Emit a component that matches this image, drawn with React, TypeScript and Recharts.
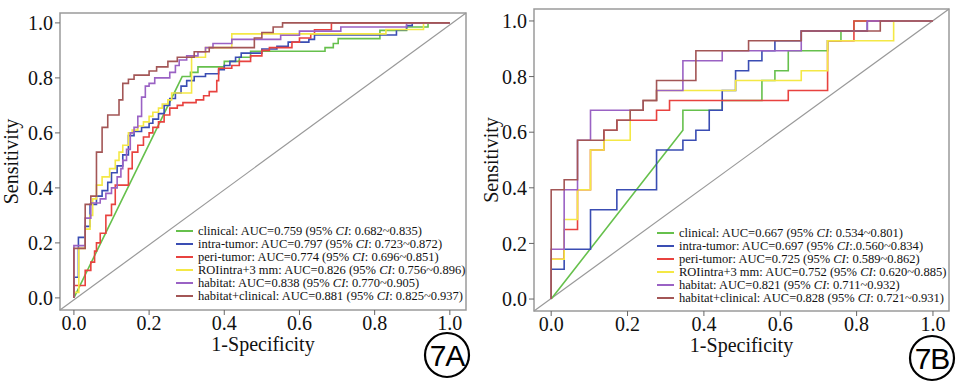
import React from 'react';
import { LineChart, Line, XAxis, YAxis, ReferenceLine, ReferenceArea, Label } from 'recharts';

type Pt = [number, number];

const seriesNames = ['clinical', 'intra-tumor', 'peri-tumor', 'ROIintra+3 mm', 'habitat', 'habitat+clinical'];
const seriesColors = ['#66c04c', '#3a4db3', '#e8423f', '#f4e845', '#9a62c4', '#a35656'];
const axisTicks = [0, 0.2, 0.4, 0.6, 0.8, 1.0];

// 7A: training cohort curves (1-specificity, sensitivity)
const clinicalA: Pt[] = [
  [0, 0], [0.288, 0.805], [0.31, 0.805], [0.31, 0.82], [0.33, 0.82], [0.33, 0.84], [0.4, 0.84],
  [0.4, 0.86], [0.44, 0.86], [0.44, 0.875], [0.47, 0.875], [0.47, 0.897], [0.668, 0.897],
  [0.668, 0.91], [0.69, 0.91], [0.69, 0.925], [0.703, 0.925], [0.703, 0.943], [0.814, 0.943],
  [0.814, 0.973], [0.885, 0.973], [0.885, 0.985], [0.942, 0.985], [0.942, 1], [1, 1],
];
const intraA: Pt[] = [
  [0, 0], [0, 0.075], [0.012, 0.075], [0.012, 0.22], [0.03, 0.22], [0.03, 0.26], [0.043, 0.26],
  [0.043, 0.34], [0.06, 0.34], [0.06, 0.37], [0.075, 0.37], [0.075, 0.39], [0.09, 0.39],
  [0.09, 0.42], [0.1, 0.42], [0.1, 0.455], [0.115, 0.455], [0.115, 0.48], [0.13, 0.48],
  [0.13, 0.52], [0.145, 0.52], [0.145, 0.59], [0.16, 0.59], [0.16, 0.605], [0.18, 0.605],
  [0.18, 0.62], [0.2, 0.62], [0.2, 0.635], [0.21, 0.635], [0.21, 0.65], [0.225, 0.65],
  [0.225, 0.67], [0.24, 0.67], [0.24, 0.7], [0.255, 0.7], [0.255, 0.725], [0.27, 0.725],
  [0.27, 0.745], [0.285, 0.745], [0.285, 0.77], [0.3, 0.77], [0.3, 0.79], [0.32, 0.79],
  [0.32, 0.805], [0.35, 0.805], [0.35, 0.815], [0.385, 0.815], [0.385, 0.83], [0.4, 0.83],
  [0.4, 0.845], [0.415, 0.845], [0.415, 0.86], [0.43, 0.86], [0.43, 0.875], [0.445, 0.875],
  [0.445, 0.89], [0.5, 0.89], [0.5, 0.905], [0.54, 0.905], [0.54, 0.915], [0.57, 0.915],
  [0.57, 0.93], [0.625, 0.93], [0.625, 0.94], [0.64, 0.94], [0.64, 0.956], [0.858, 0.956],
  [0.858, 0.975], [0.885, 0.975], [0.885, 0.99], [0.9, 0.99], [0.9, 1], [1, 1],
];
const periA: Pt[] = [
  [0, 0], [0, 0.045], [0.03, 0.045], [0.03, 0.1], [0.045, 0.1], [0.045, 0.13], [0.055, 0.13],
  [0.055, 0.17], [0.06, 0.17], [0.06, 0.2], [0.07, 0.2], [0.07, 0.235], [0.085, 0.235],
  [0.085, 0.3], [0.1, 0.3], [0.1, 0.34], [0.11, 0.34], [0.11, 0.41], [0.145, 0.41],
  [0.145, 0.47], [0.155, 0.47], [0.155, 0.53], [0.17, 0.53], [0.17, 0.555], [0.185, 0.555],
  [0.185, 0.585], [0.2, 0.585], [0.2, 0.6], [0.21, 0.6], [0.21, 0.62], [0.225, 0.62],
  [0.225, 0.64], [0.24, 0.64], [0.24, 0.665], [0.255, 0.665], [0.255, 0.69], [0.275, 0.69],
  [0.275, 0.7], [0.29, 0.7], [0.29, 0.71], [0.325, 0.71], [0.325, 0.72], [0.345, 0.72],
  [0.345, 0.735], [0.36, 0.735], [0.36, 0.75], [0.38, 0.75], [0.38, 0.79], [0.385, 0.79],
  [0.385, 0.835], [0.42, 0.835], [0.42, 0.845], [0.44, 0.845], [0.44, 0.86], [0.47, 0.86],
  [0.47, 0.88], [0.5, 0.88], [0.5, 0.9], [0.52, 0.9], [0.52, 0.91], [0.58, 0.91], [0.58, 0.93],
  [0.6, 0.93], [0.6, 0.945], [0.63, 0.945], [0.63, 0.96], [0.64, 0.96], [0.64, 0.975],
  [0.685, 0.975], [0.685, 1], [1, 1],
];
const roiA: Pt[] = [
  [0, 0], [0, 0.02], [0.013, 0.02], [0.013, 0.18], [0.03, 0.18], [0.03, 0.25], [0.043, 0.25],
  [0.043, 0.3], [0.05, 0.3], [0.05, 0.36], [0.06, 0.36], [0.06, 0.41], [0.075, 0.41],
  [0.075, 0.44], [0.095, 0.44], [0.095, 0.47], [0.11, 0.47], [0.11, 0.5], [0.12, 0.5],
  [0.12, 0.53], [0.13, 0.53], [0.13, 0.555], [0.145, 0.555], [0.145, 0.6], [0.155, 0.6],
  [0.155, 0.61], [0.17, 0.61], [0.17, 0.625], [0.185, 0.625], [0.185, 0.64], [0.2, 0.64],
  [0.2, 0.66], [0.21, 0.66], [0.21, 0.675], [0.225, 0.675], [0.225, 0.69], [0.235, 0.69],
  [0.235, 0.705], [0.25, 0.705], [0.25, 0.72], [0.26, 0.72], [0.26, 0.745], [0.313, 0.745],
  [0.313, 0.875], [0.35, 0.875], [0.35, 0.91], [0.42, 0.91], [0.42, 0.96], [0.83, 0.96],
  [0.83, 0.976], [0.93, 0.976], [0.93, 1], [1, 1],
];
const habitatA: Pt[] = [
  [0, 0], [0, 0.19], [0.03, 0.19], [0.03, 0.29], [0.045, 0.29], [0.045, 0.345], [0.07, 0.345],
  [0.07, 0.36], [0.085, 0.36], [0.085, 0.38], [0.1, 0.38], [0.1, 0.4], [0.115, 0.4],
  [0.115, 0.44], [0.125, 0.44], [0.125, 0.47], [0.13, 0.47], [0.13, 0.5], [0.14, 0.5],
  [0.14, 0.54], [0.15, 0.54], [0.15, 0.6], [0.16, 0.6], [0.16, 0.62], [0.17, 0.62],
  [0.17, 0.66], [0.18, 0.66], [0.18, 0.73], [0.19, 0.73], [0.19, 0.77], [0.2, 0.77],
  [0.2, 0.78], [0.215, 0.78], [0.215, 0.8], [0.255, 0.8], [0.255, 0.82], [0.27, 0.82],
  [0.27, 0.845], [0.28, 0.845], [0.28, 0.865], [0.3, 0.865], [0.3, 0.88], [0.33, 0.88],
  [0.33, 0.895], [0.35, 0.895], [0.35, 0.91], [0.37, 0.91], [0.37, 0.925], [0.42, 0.925],
  [0.42, 0.94], [0.55, 0.94], [0.55, 0.955], [0.6, 0.955], [0.6, 0.97], [0.71, 0.97],
  [0.71, 0.985], [0.885, 0.985], [0.885, 1], [1, 1],
];
const comboA: Pt[] = [
  [0, 0], [0, 0.18], [0.03, 0.18], [0.03, 0.34], [0.045, 0.34], [0.045, 0.37], [0.06, 0.37],
  [0.06, 0.53], [0.075, 0.53], [0.075, 0.62], [0.09, 0.62], [0.09, 0.665], [0.12, 0.665],
  [0.12, 0.72], [0.13, 0.72], [0.13, 0.78], [0.145, 0.78], [0.145, 0.795], [0.16, 0.795],
  [0.16, 0.81], [0.2, 0.81], [0.2, 0.825], [0.22, 0.825], [0.22, 0.84], [0.25, 0.84],
  [0.25, 0.86], [0.275, 0.86], [0.275, 0.875], [0.32, 0.875], [0.32, 0.895], [0.36, 0.895],
  [0.36, 0.91], [0.48, 0.91], [0.48, 0.945], [0.5, 0.945], [0.5, 0.965], [0.53, 0.965],
  [0.53, 0.985], [0.555, 0.985], [0.555, 1], [1, 1],
];
const aucA = ['0.759', '0.797', '0.774', '0.826', '0.838', '0.881'];
const ciA = [': 0.682~0.835', ': 0.723~0.872', ': 0.696~0.851', ': 0.756~0.896', ': 0.770~0.905', ': 0.825~0.937'];

// 7B: validation cohort curves
const clinicalB: Pt[] = [
  [0, 0], [0.345, 0.607], [0.345, 0.679], [0.448, 0.679], [0.448, 0.714], [0.552, 0.714],
  [0.552, 0.786], [0.586, 0.786], [0.586, 0.821], [0.621, 0.821], [0.621, 0.893], [0.724, 0.893],
  [0.724, 0.929], [0.759, 0.929], [0.759, 0.964], [0.793, 0.964], [0.793, 1], [1, 1],
];
const intraB: Pt[] = [
  [0, 0], [0, 0.107], [0.034, 0.107], [0.034, 0.179], [0.103, 0.179], [0.103, 0.321],
  [0.172, 0.321], [0.172, 0.393], [0.276, 0.393], [0.276, 0.536], [0.345, 0.536], [0.345, 0.571],
  [0.379, 0.571], [0.379, 0.607], [0.414, 0.607], [0.414, 0.679], [0.448, 0.679], [0.448, 0.75],
  [0.483, 0.75], [0.483, 0.821], [0.517, 0.821], [0.517, 0.857], [0.552, 0.857], [0.552, 0.893],
  [0.586, 0.893], [0.586, 0.929], [0.655, 0.929], [0.655, 0.964], [0.828, 0.964], [0.828, 1], [1, 1],
];
const periB: Pt[] = [
  [0, 0], [0, 0.143], [0.034, 0.143], [0.034, 0.25], [0.069, 0.25], [0.069, 0.393], [0.103, 0.393],
  [0.103, 0.536], [0.138, 0.536], [0.138, 0.607], [0.172, 0.607], [0.172, 0.643], [0.276, 0.643],
  [0.276, 0.679], [0.31, 0.679], [0.31, 0.714], [0.621, 0.714], [0.621, 0.75], [0.724, 0.75],
  [0.724, 0.929], [0.793, 0.929], [0.793, 1], [1, 1],
];
const roiB: Pt[] = [
  [0, 0], [0, 0.143], [0.034, 0.143], [0.034, 0.286], [0.069, 0.286], [0.069, 0.393], [0.103, 0.393],
  [0.103, 0.536], [0.138, 0.536], [0.138, 0.571], [0.207, 0.571], [0.207, 0.679], [0.241, 0.679],
  [0.241, 0.714], [0.276, 0.714], [0.276, 0.75], [0.483, 0.75], [0.483, 0.786], [0.655, 0.786],
  [0.655, 0.821], [0.724, 0.821], [0.724, 0.929], [0.897, 0.929], [0.897, 1], [1, 1],
];
const habitatB: Pt[] = [
  [0, 0], [0, 0.179], [0.034, 0.179], [0.034, 0.393], [0.069, 0.393], [0.069, 0.571], [0.103, 0.571],
  [0.103, 0.679], [0.241, 0.679], [0.241, 0.714], [0.276, 0.714], [0.276, 0.75], [0.345, 0.75],
  [0.345, 0.857], [0.448, 0.857], [0.448, 0.893], [0.655, 0.893], [0.655, 0.964], [0.828, 0.964],
  [0.828, 1], [1, 1],
];
const comboB: Pt[] = [
  [0, 0], [0, 0.393], [0.034, 0.393], [0.034, 0.429], [0.069, 0.429], [0.069, 0.571], [0.138, 0.571],
  [0.138, 0.607], [0.172, 0.607], [0.172, 0.643], [0.207, 0.643], [0.207, 0.679], [0.241, 0.679],
  [0.241, 0.714], [0.276, 0.714], [0.276, 0.786], [0.379, 0.786], [0.379, 0.893], [0.517, 0.893],
  [0.517, 0.929], [0.655, 0.929], [0.655, 0.964], [0.862, 0.964], [0.862, 1], [1, 1],
];
const aucB = ['0.667', '0.697', '0.725', '0.752', '0.821', '0.828'];
const ciB = [': 0.534~0.801', ':.0.560~0.834', ': 0.589~0.862', ': 0.620~0.885', ': 0.711~0.932', ': 0.721~0.931'];

const serif = 'Liberation Serif, Times New Roman, serif';
const boxGray = '#9a9a9a';

const toData = (pts: Pt[]) => pts.map(([x, y]) => ({ x, y }));

interface PanelProps {
  left: number;
  width: number;
  margin: { top: number; right: number; bottom: number; left: number };
  yAxisWidth: number;
  xAxisHeight: number;
  xDomain: [number, number];
  yDomain: [number, number];
  yLabelX: number;
  curves: Pt[][];
  auc: string[];
  ci: string[];
  legendPos: { left: number; top: number };
  badge: { cx: number; cy: number; text: string };
}

const Panel = ({ left, width, margin, yAxisWidth, xAxisHeight, xDomain, yDomain, yLabelX, curves, auc, ci, legendPos, badge }: PanelProps) => (
  <div style={{ position: 'absolute', left, top: 0, width, height: 382 }}>
    <LineChart width={width} height={382} margin={margin} style={{ overflow: 'visible' }}>
      <XAxis
        type="number"
        dataKey="x"
        domain={xDomain}
        ticks={axisTicks}
        allowDataOverflow
        tickFormatter={(v: number) => v.toFixed(1)}
        height={xAxisHeight}
        axisLine={false}
        tickLine={{ stroke: '#666' }}
        tickSize={5}
        tickMargin={1}
        tick={{ fill: '#111', fontSize: 20, fontFamily: serif }}
      >
        <Label
          content={(p: any) => (
            <text x={p.viewBox.x + p.viewBox.width / 2} y={p.viewBox.y + 41} textAnchor="middle" fontFamily={serif} fontSize={20} fill="#111">
              1-Specificity
            </text>
          )}
        />
      </XAxis>
      <YAxis
        type="number"
        domain={yDomain}
        ticks={axisTicks}
        allowDataOverflow
        tickFormatter={(v: number) => v.toFixed(1)}
        width={yAxisWidth}
        axisLine={false}
        tickLine={{ stroke: '#666' }}
        tickSize={5}
        tickMargin={2}
        tick={{ fill: '#111', fontSize: 20, fontFamily: serif }}
      >
        <Label
          content={(p: any) => {
            const cy = p.viewBox.y + p.viewBox.height / 2;
            return (
              <text x={yLabelX} y={cy} textAnchor="middle" fontFamily={serif} fontSize={20} fill="#111" transform={`rotate(-90, ${yLabelX}, ${cy})`}>
                Sensitivity
              </text>
            );
          }}
        />
      </YAxis>
      <ReferenceArea x1={xDomain[0]} x2={xDomain[1]} y1={yDomain[0]} y2={yDomain[1]} fill="none" stroke={boxGray} strokeWidth={1.5} />
      <ReferenceLine
        segment={[{ x: xDomain[0], y: yDomain[0] }, { x: xDomain[1], y: yDomain[1] }]}
        stroke="#999"
        strokeWidth={1.2}
      />
      {curves.map((pts, i) => (
        <Line
          key={seriesNames[i]}
          data={toData(pts)}
          dataKey="y"
          type="linear"
          stroke={seriesColors[i]}
          strokeWidth={1.6}
          dot={false}
          activeDot={false}
          isAnimationActive={false}
        />
      ))}
    </LineChart>

    {/* legend inside the plot, lower right */}
    <div style={{ position: 'absolute', left: legendPos.left, top: legendPos.top, fontFamily: serif, fontSize: 12.5, color: '#111', whiteSpace: 'nowrap' }}>
      {seriesNames.map((name, i) => (
        <div key={name} style={{ display: 'flex', alignItems: 'center', height: 13, lineHeight: '13px' }}>
          <span style={{ display: 'inline-block', width: 17, height: 2, background: seriesColors[i], marginRight: 5 }} />
          <span>
            {name}: AUC={auc[i]} (95% <i>CI</i>{ci[i]})
          </span>
        </div>
      ))}
    </div>

    <svg style={{ position: 'absolute', left: badge.cx - 25, top: badge.cy - 25 }} width={50} height={50}>
      <circle cx={25} cy={25} r={22} fill="none" stroke="#000" strokeWidth={2.2} />
      <text x={25} y={35.5} textAnchor="middle" fontFamily="Liberation Sans, Arial, sans-serif" fontSize={30} letterSpacing={-1} fill="#000">
        {badge.text}
      </text>
    </svg>
  </div>
);

const App = () => (
  <div style={{ position: 'absolute', left: 0, top: 0, width: 958, height: 382, background: '#fff', overflow: 'hidden' }}>
    <Panel
      left={0}
      width={480}
      margin={{ top: 13, right: 14, bottom: 0, left: 0 }}
      yAxisWidth={60}
      xAxisHeight={72}
      xDomain={[-0.037, 1.043]}
      yDomain={[-0.044, 1.036]}
      yLabelX={18}
      curves={[clinicalA, intraA, periA, roiA, habitatA, comboA]}
      auc={aucA}
      ci={ciA}
      legendPos={{ left: 176, top: 224.5 }}
      badge={{ cx: 447, cy: 355, text: '7A' }}
    />
    <Panel
      left={480}
      width={478}
      margin={{ top: 9, right: 9, bottom: 0, left: 0 }}
      yAxisWidth={54}
      xAxisHeight={71}
      xDomain={[-0.045, 1.042]}
      yDomain={[-0.043, 1.043]}
      yLabelX={18}
      curves={[clinicalB, intraB, periB, roiB, habitatB, comboB]}
      auc={aucB}
      ci={ciB}
      legendPos={{ left: 177, top: 226.5 }}
      badge={{ cx: 452, cy: 358, text: '7B' }}
    />
  </div>
);

export default App;
